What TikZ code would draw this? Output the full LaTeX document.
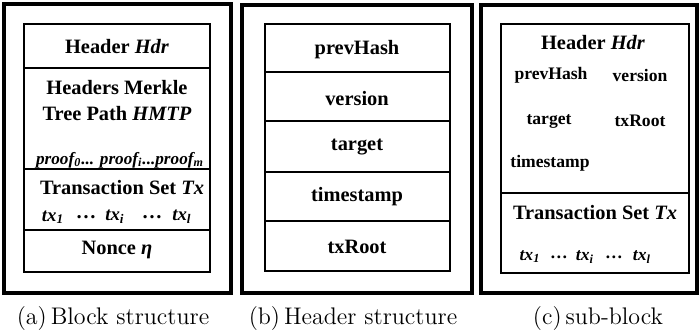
\documentclass[tikz,border=0pt]{standalone}
\usepackage{fontspec}
\newfontfamily\timesfont{Liberation Serif}
\usetikzlibrary{positioning}

\begin{document}
\begin{tikzpicture}[x=0.5pt,y=-0.5pt,
        outer/.style={line width=1.6pt},
        inner/.style={line width=0.9pt},
        field/.style={font=\timesfont\bfseries\fontsize{10.2}{12}\selectfont,inner sep=0pt},
        subfield/.style={font=\timesfont\bfseries\fontsize{8.8}{10}\selectfont,inner sep=0pt},
        itfield/.style={font=\timesfont\bfseries\itshape\fontsize{9.4}{11}\selectfont,inner sep=0pt},
        subcap/.style={font=\large,inner sep=0pt}]
                \useasboundingbox (0,0) rectangle (699,333);
                % (a) block
                \draw [outer] (4,4) rectangle (231,293);
                \draw [inner] (24,24) rectangle (210,272);
                \draw [inner] (24,68)--(210,68);
                \draw [inner] (24,169)--(210,169);
                \draw [inner] (24,230)--(210,230);
                \node [field] (hdr) at (117,47) {Header \textit{Hdr}};
                \node [field,align=center] (hmtp) at (117,101) {Headers Merkle\\[1pt]Tree Path \textit{HMTP}};
                \node [itfield,font=\timesfont\bfseries\itshape\fontsize{8.6}{10}\selectfont] (proof) at (120,160)
                        {proof\textsubscript{0}... proof\textsubscript{i}...proof\textsubscript{m}};
                \node [field] (txset) at (122,188) {Transaction Set \textit{Tx}};
                \node [itfield] (txa1) at (53,217) {tx\textsubscript{1}};
                \node [field] (dota1) at (86,217) {\dots};
                \node [itfield] (txai) at (115,217) {tx\textsubscript{i}};
                \node [field] (dota2) at (152,217) {\dots};
                \node [itfield] (txal) at (182,217) {tx\textsubscript{l}};
                \node [field] (nonce) at (117,250) {Nonce \textit{η}};
                \node [subcap] (capa) at (113,318) {(a)\hspace{2pt}Block structure};
                % (b) header
                \draw [outer] (242,5) rectangle (472,293);
                \draw [inner] (265,24) rectangle (450,271);
                \foreach \y in {72,121,172,221}
                        \draw [inner] (265,\y)--(450,\y);
                \node [field] (prevb) at (357,50) {prevHash};
                \node [field] (verb) at (357,99) {version};
                \node [field] (targb) at (357,147) {target};
                \node [field] (timeb) at (357,197) {timestamp};
                \node [field] (rootb) at (357,247) {txRoot};
                \node [subcap] (capb) at (353,318) {(b)\hspace{2pt}Header structure};
                % (c) sub-block
                \draw [outer] (481,5) rectangle (697,293);
                \draw [inner] (501,24) rectangle (689,273);
                \draw [inner] (501,193)--(689,193);
                \node [field] (hdrc) at (593,43) {Header \textit{Hdr}};
                \node [subfield] (prevc) at (551,75) {prevHash};
                \node [subfield] (verc) at (640,75) {version};
                \node [subfield] (targc) at (549,121) {target};
                \node [subfield] (rootc) at (640,121) {txRoot};
                \node [subfield] (timec) at (550,163) {timestamp};
                \node [field] (txsetc) at (595,213) {Transaction Set \textit{Tx}};
                \node [itfield,font=\timesfont\bfseries\itshape\fontsize{8.8}{10}\selectfont] (txc1) at (530,257) {tx\textsubscript{1}};
                \node [subfield] (dotc1) at (559,257) {\dots};
                \node [itfield,font=\timesfont\bfseries\itshape\fontsize{8.8}{10}\selectfont] (txci) at (585,257) {tx\textsubscript{i}};
                \node [subfield] (dotc2) at (614,257) {\dots};
                \node [itfield,font=\timesfont\bfseries\itshape\fontsize{8.8}{10}\selectfont] (txcl) at (642,257) {tx\textsubscript{l}};
                \node [subcap] (capc) at (598,318) {(c)\hspace{2pt}sub-block};
\end{tikzpicture}
\end{document}
